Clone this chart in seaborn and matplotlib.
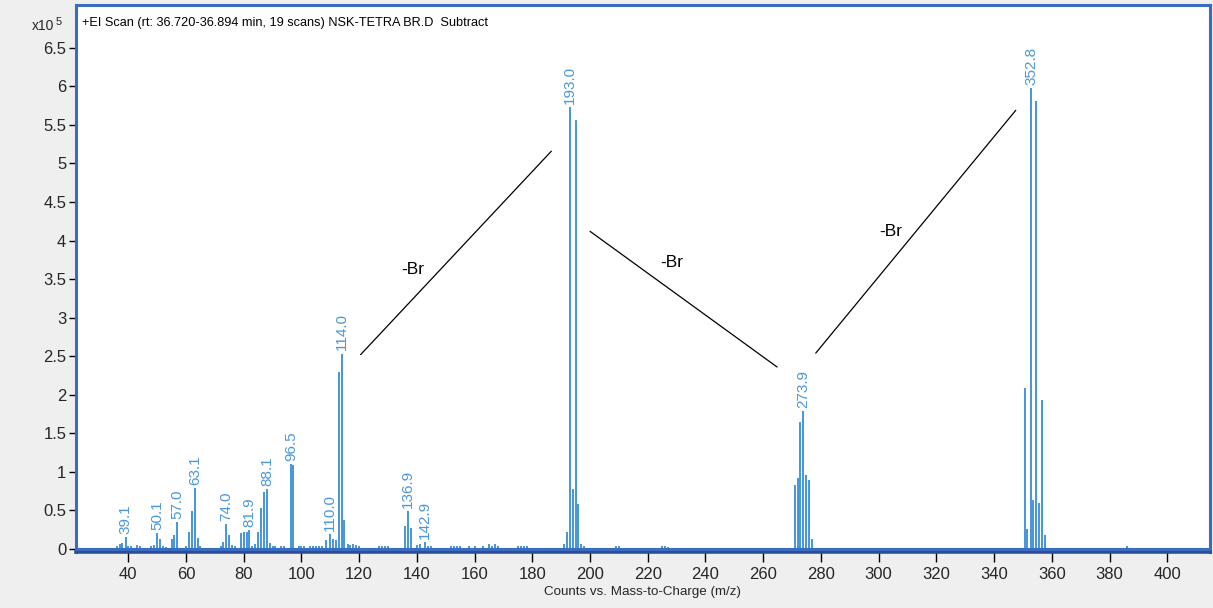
import matplotlib
matplotlib.use("Agg")
import matplotlib.pyplot as plt
import seaborn as sns
import pandas as pd

# ---- spectrum data (m/z, abundance in units of 1e5 counts) ----
major_mz = [37.0, 38.0, 39.1, 49.0, 50.1, 51.0, 55.0, 56.0, 57.0, 61.0, 62.0, 63.1, 64.0,
            73.0, 74.0, 75.0, 79.0, 80.0, 81.0, 81.9, 84.0, 85.0, 86.0, 87.0, 88.1, 89.0,
            96.5, 97.2, 108.6, 110.0, 111.0, 112.0, 113.0, 114.0, 114.8,
            135.8, 136.9, 138.0, 142.9,
            191.0, 192.0, 193.0, 194.0, 195.0, 196.0, 197.0,
            270.9, 271.9, 272.9, 273.9, 274.9, 275.9, 276.9,
            350.6, 351.3, 352.8, 353.6, 354.6, 355.5, 356.6, 357.6]
major_int = [0.05, 0.07, 0.14, 0.04, 0.19, 0.11, 0.11, 0.17, 0.33, 0.21, 0.48, 0.78, 0.13,
             0.08, 0.31, 0.17, 0.19, 0.21, 0.20, 0.23, 0.05, 0.21, 0.52, 0.72, 0.76, 0.07,
             1.09, 1.08, 0.10, 0.18, 0.12, 0.10, 2.28, 2.52, 0.36,
             0.28, 0.48, 0.26, 0.08,
             0.05, 0.21, 5.72, 0.76, 5.55, 0.57, 0.05,
             0.81, 0.91, 1.63, 1.77, 0.94, 0.88, 0.11,
             2.07, 0.24, 5.97, 0.62, 5.80, 0.58, 1.92, 0.17]

minor_mz = [36, 40, 41, 43, 44, 48, 52, 53, 60, 65, 72, 76, 77, 83, 90, 91, 93, 94,
            99, 100, 101, 103, 104, 105, 106, 107, 116, 117, 118, 119, 120, 127, 128,
            129, 130, 140, 141, 144, 145, 152, 153, 154, 155, 158, 160, 163, 165, 166,
            167, 168, 175, 176, 177, 178, 198, 209, 210, 225, 226, 227, 386]
minor_int = [0.02, 0.03, 0.02, 0.04, 0.02, 0.02, 0.02, 0.01, 0.03, 0.03, 0.02, 0.04,
             0.02, 0.02, 0.03, 0.02, 0.02, 0.02, 0.03, 0.02, 0.02, 0.02, 0.02, 0.02,
             0.02, 0.03, 0.05, 0.04, 0.05, 0.04, 0.02, 0.02, 0.03, 0.03, 0.02, 0.04,
             0.05, 0.03, 0.03, 0.03, 0.02, 0.02, 0.02, 0.02, 0.02, 0.02, 0.05, 0.03,
             0.05, 0.02, 0.02, 0.02, 0.02, 0.02, 0.02, 0.02, 0.02, 0.02, 0.02, 0.01,
             0.02]

labelled_peaks = [39.1, 50.1, 57.0, 63.1, 74.0, 81.9, 88.1, 96.5, 110.0, 114.0,
                  136.9, 142.9, 193.0, 273.9, 352.8]

# neutral-loss annotations: (x0, y0, x1, y1, text x, text y)
loss_lines = [
    (120.5, 2.52, 186.6, 5.16, 138.5, 3.62),
    (200.0, 4.12, 264.8, 2.36, 228.2, 3.71),
    (278.2, 2.54, 347.5, 5.69, 304.2, 4.12),
]
loss_label = "-Br"

title_text = "+EI Scan (rt: 36.720-36.894 min, 19 scans) NSK-TETRA BR.D  Subtract"
x_label = "Counts vs. Mass-to-Charge (m/z)"
x_ticks = list(range(40, 401, 20))
y_ticks = [0, 0.5, 1, 1.5, 2, 2.5, 3, 3.5, 4, 4.5, 5, 5.5, 6, 6.5]

# ---- build a stick trace: each peak rises from and returns to the baseline ----
peaks = sorted(zip(major_mz + minor_mz, major_int + minor_int))
trace_x, trace_y = [21.9], [0.0]
for mz, h in peaks:
    trace_x += [mz, mz, mz]
    trace_y += [0.0, h, 0.0]
trace_x.append(414.8)
trace_y.append(0.0)
trace = pd.DataFrame({"mz": trace_x, "abundance": trace_y})

sns.set_theme(style="white")
fonts = ["Liberation Sans", "DejaVu Sans"]
plt.rcParams["font.family"] = fonts

stick_color = "#4a97dc"
frame_color = "#3a6cc2"

fig = plt.figure(figsize=(12.13, 6.08), dpi=100, facecolor="#efefef")
ax = fig.add_axes([76 / 1213, 1 - 552 / 608, (1210 - 76) / 1213, (552 - 5) / 608])
ax.set_facecolor("white")

sns.lineplot(data=trace, x="mz", y="abundance", sort=False, estimator=None,
             color=stick_color, linewidth=1.3, ax=ax, legend=False)
# baseline
ax.axhline(0, color=frame_color, linewidth=2.2, zorder=3)

# peak labels
lookup = dict(zip(major_mz, major_int))
for mz in labelled_peaks:
    ax.annotate(f"{mz:.1f}", xy=(mz, lookup[mz]), xytext=(0, 3),
                textcoords="offset points", rotation=90, ha="center", va="bottom",
                color=stick_color, fontsize=11)

# neutral loss markers
for x0, y0, x1, y1, tx, ty in loss_lines:
    ax.plot([x0, x1], [y0, y1], color="black", linewidth=0.9)
    ax.text(tx, ty, loss_label, color="black", fontsize=12.5,
            ha="center", va="center")

ax.set_xlim(21.9, 414.8)
ax.set_ylim(-0.04, 7.056)
ax.set_xticks(x_ticks)
ax.set_xticklabels([str(t) for t in x_ticks], fontsize=12)
ax.set_yticks(y_ticks)
ax.set_yticklabels([f"{t:g}" for t in y_ticks], fontsize=12)
ax.set_xlabel(x_label, fontsize=9.6, labelpad=3)
ax.set_ylabel("")
ax.tick_params(axis="both", which="major", direction="out", length=5, width=1,
               color="black", pad=2, left=True, bottom=True)
ax.tick_params(axis="x", length=7, pad=4)

for side in ["top", "right", "left"]:
    ax.spines[side].set_visible(True)
    ax.spines[side].set_color(frame_color)
    ax.spines[side].set_linewidth(2.2)
ax.spines["bottom"].set_color("#2b4f94")
ax.spines["bottom"].set_linewidth(2.6)

ax.text(0.005, 0.978, title_text, transform=ax.transAxes, ha="left", va="top",
        fontsize=9.2, color="black")
fig.text(32 / 1213, 1 - 30 / 608, "x10", ha="left", va="baseline", fontsize=10)
fig.text(56 / 1213, 1 - 25 / 608, "5", ha="left", va="baseline", fontsize=8)

fig.savefig("out.png", dpi=100, facecolor=fig.get_facecolor())
